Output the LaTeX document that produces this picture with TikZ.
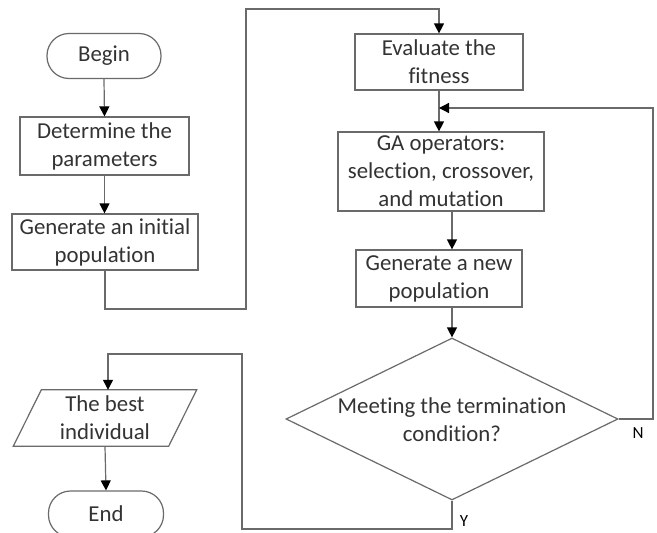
\documentclass[tikz,border=0pt]{standalone}
\usepackage{fontspec}
\setmainfont{Carlito}[Ligatures=NoCommon]
\usetikzlibrary{arrows.meta,shapes.geometric}
\definecolor{linegray}{HTML}{6A6A6A}
\definecolor{txt}{HTML}{333333}
\tikzset{
  every node/.style={text=txt, font=\fontsize{22.8}{28}\selectfont},
  box/.style={draw=linegray, line width=1.2pt, rectangle, align=center, inner sep=0pt},
  term/.style={box, rounded corners=22pt},
  conn/.style={draw=linegray, line width=1.2pt},
  arr/.style={conn, -{Triangle[length=10pt,width=10pt,color=black]}},
  lbl/.style={font=\fontsize{17}{20}\selectfont, text=black}
}
\begin{document}
\begin{tikzpicture}[x=1pt,y=-1pt]
\useasboundingbox (0,0) rectangle (657,533);
\clip (0,0) rectangle (657,533);
\fill[white] (0,0) rectangle (657,533);
% nodes
\node[term, minimum width=114, minimum height=45] (begin) at (104,56) {Begin};
\node[box, minimum width=169, minimum height=58] (det) at (104.5,146) {Determine the\\parameters};
\node[box, minimum width=186, minimum height=56] (gen) at (105,242) {Generate an initial\\population};
\node[box, minimum width=168, minimum height=56] (eval) at (439,62) {Evaluate the\\fitness};
\node[box, minimum width=206, minimum height=79] (ga) at (441,171.5) {GA operators:\\selection, crossover,\\and mutation};
\node[box, minimum width=166, minimum height=57] (newp) at (439,278.5) {Generate a new\\population};
\node[diamond, draw=linegray, line width=1.2pt, minimum width=332, minimum height=162, inner sep=0pt] (dia) at (452,419) {};
\node[align=center] (diatext) at (452,420) {Meeting the termination\\condition?};
\node[align=center, inner sep=0pt, minimum width=155, minimum height=56] (best) at (105,418) {The best\\individual};
\draw[conn] ([xshift=14]best.north west) -- ([xshift=14]best.north east) -- ([xshift=-14]best.south east) -- ([xshift=-14]best.south west) -- cycle;
\node[term, minimum width=115, minimum height=46] (end) at (106,514) {End};
% labels
\node[lbl] (nlab) at (638,433) {N};
\node[lbl] (ylab) at (464,521) {Y};
% coordinates
\coordinate (k1) at (246,309);
\coordinate (k2) at (246,9);
\coordinate (jn) at (439,108);
\coordinate (rt) at (653,108);
\coordinate (b1) at (452,529);
\coordinate (b2) at (242,529);
\coordinate (b3) at (242,354);
\coordinate (b4) at (108,354);
% connectors
\draw[arr] (begin.south) -- (det.north);
\draw[arr] (det.south) -- (det.south |- gen.north);
\draw[arr] (gen.south) |- (k1) -- (k2) -| (eval.north);
\draw[arr] (eval.south) -- (eval.south |- ga.north);
\draw[arr] (dia.north |- ga.south) -- (dia.north |- newp.north);
\draw[arr] (dia.north |- newp.south) -- (dia.north);
\draw[arr] (dia.east) -| (rt) -- (jn);
\draw[arr] (dia.south) -- (b1) -- (b2) -- (b3) -- (b4) -- (b4 |- best.north);
\draw[arr] (best.south) -- (end.north);
\end{tikzpicture}
\end{document}
